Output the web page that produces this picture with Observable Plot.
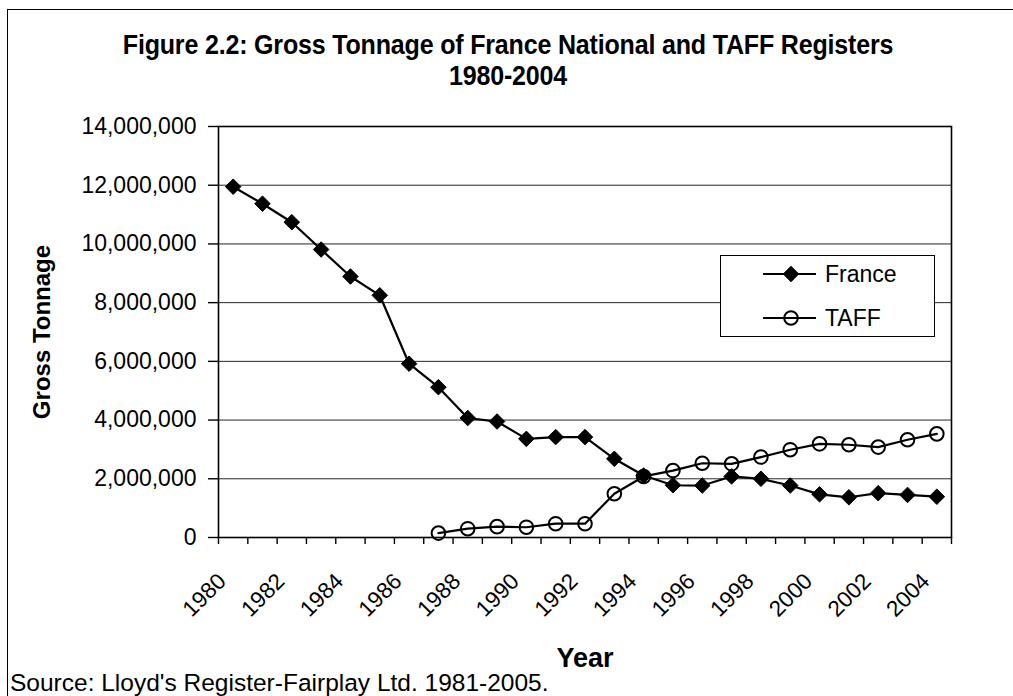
<!DOCTYPE html>
<html>
<head>
<meta charset="utf-8">
<script src="https://cdn.jsdelivr.net/npm/d3@7"></script>
<script src="https://cdn.jsdelivr.net/npm/@observablehq/plot@0.6"></script>
<style>
  html, body { margin: 0; padding: 0; background: #fff; }
  #page { position: relative; width: 1013px; height: 696px; overflow: hidden; font-family: "Liberation Sans", Arial, sans-serif; color: #000; background: #fff; }
  #frame { position: absolute; left: 7px; top: 9px; width: 1100px; height: 800px; border-left: 1.5px solid #000; border-top: 1.5px solid #000; }
  .title { position: absolute; left: 0; width: 1016px; text-align: center; font-family: "Liberation Sans", Arial, sans-serif; font-weight: bold; font-size: 27.5px; line-height: 27.5px; white-space: nowrap; transform: scaleX(0.91); transform-origin: 508px 0; letter-spacing: -0.2px; }
  #t1 { top: 30.5px; }
  #t2 { top: 62px; }
  #chart { position: absolute; left: 0; top: 100px; }
  #legend { position: absolute; left: 720px; top: 255px; width: 215px; height: 82px; border: 1.2px solid #000; background: #fff; box-sizing: border-box; }
  #legend svg { position: absolute; left: 0; top: 0; }
  #source { position: absolute; left: 10px; top: 671px; font-size: 24.5px; line-height: 24px; white-space: nowrap; }
</style>
</head>
<body>
<div id="page">
  <div id="frame"></div>
  <div class="title" id="t1">Figure 2.2: Gross Tonnage of France National and TAFF Registers</div>
  <div class="title" id="t2">1980-2004</div>
  <div id="chart"></div>
  <div id="legend"></div>
  <div id="source">Source: Lloyd's Register-Fairplay Ltd. 1981-2005.</div>
</div>
<script>
// ---- data ----
const years = [1980, 1981, 1982, 1983, 1984, 1985, 1986, 1987, 1988, 1989, 1990, 1991, 1992,
               1993, 1994, 1995, 1996, 1997, 1998, 1999, 2000, 2001, 2002, 2003, 2004];
const france = [11950000, 11370000, 10740000, 9810000, 8890000, 8250000, 5920000, 5120000,
                4070000, 3950000, 3360000, 3420000, 3420000, 2680000, 2110000, 1780000,
                1770000, 2080000, 2000000, 1770000, 1470000, 1370000, 1510000, 1450000, 1390000];
const taff = [null, null, null, null, null, null, null, 150000,
              300000, 370000, 350000, 470000, 470000, 1490000, 2080000, 2280000,
              2530000, 2510000, 2740000, 2990000, 3190000, 3160000, 3080000, 3330000, 3530000];
const yTicks = [0, 2000000, 4000000, 6000000, 8000000, 10000000, 12000000, 14000000];
const xLabelYears = [1980, 1982, 1984, 1986, 1988, 1990, 1992, 1994, 1996, 1998, 2000, 2002, 2004];
const seriesNames = ["France", "TAFF"];

// ---- tables built from the arrays ----
const franceRows = years.map((y, i) => ({year: y, value: france[i]}));
const taffRows = years.map((y, i) => ({year: y, value: taff[i]})).filter(d => d.value != null);
const categoryEdges = years.concat([years[years.length - 1] + 1]);
const mid = d => d.year + 0.5;   // category centre on the year axis

const chart = Plot.plot({
  width: 1013,
  height: 576,
  marginLeft: 218,
  marginRight: 62,
  marginTop: 26,
  marginBottom: 139,
  style: {fontFamily: "'Liberation Sans', Arial, sans-serif", color: "#000", background: "transparent", overflow: "visible"},
  x: {type: "linear", domain: [years[0], years[years.length - 1] + 1]},
  y: {domain: [0, 14000000]},
  marks: [
    Plot.gridY(yTicks, {stroke: "#000", strokeOpacity: 0.85, strokeWidth: 1}),
    Plot.frame({stroke: "#000", strokeWidth: 1.6}),
    Plot.axisY(yTicks, {tickSize: 10, tickPadding: 12, tickFormat: d3.format(","), fontSize: 23, label: null, strokeWidth: 1.4}),
    Plot.axisY({ticks: [], label: "Gross Tonnage", labelAnchor: "center", labelArrow: "none", labelOffset: 186, fontSize: 24, fontWeight: "bold"}),
    Plot.axisX(categoryEdges, {tickSize: 7, tickFormat: () => "", label: null, strokeWidth: 1.4}),
    Plot.text(xLabelYears, {x: d => d + 0.5, text: d => String(d), frameAnchor: "bottom", dy: 40, dx: -11, rotate: -45, textAnchor: "end", lineAnchor: "middle", fontSize: 22.5}),
    Plot.axisX({ticks: [], label: "Year", labelAnchor: "center", labelArrow: "none", labelOffset: 129, fontSize: 27, fontWeight: "bold"}),
    Plot.line(franceRows, {x: mid, y: "value", stroke: "#000", strokeWidth: 2.2}),
    Plot.line(taffRows, {x: mid, y: "value", stroke: "#000", strokeWidth: 2.2}),
    Plot.dot(franceRows, {x: mid, y: "value", symbol: "diamond2", r: 7, fill: "#000", stroke: "#000", strokeWidth: 1}),
    Plot.dot(taffRows, {x: mid, y: "value", symbol: "circle", r: 6.8, fill: "none", stroke: "#000", strokeWidth: 2})
  ]
});
document.getElementById("chart").appendChild(chart);

// ---- legend ----
const ns = "http://www.w3.org/2000/svg";
const lg = document.createElementNS(ns, "svg");
lg.setAttribute("width", 215);
lg.setAttribute("height", 82);
const rowsY = [18, 62];
seriesNames.forEach((name, i) => {
  const y = rowsY[i];
  const line = document.createElementNS(ns, "line");
  line.setAttribute("x1", 42); line.setAttribute("x2", 95);
  line.setAttribute("y1", y); line.setAttribute("y2", y);
  line.setAttribute("stroke", "#000"); line.setAttribute("stroke-width", 2.2);
  lg.appendChild(line);
  const sym = document.createElementNS(ns, "path");
  const shape = i === 0 ? d3.symbolDiamond2 : d3.symbolCircle;
  const size = i === 0 ? Math.PI * 49 : Math.PI * 6.8 * 6.8;
  sym.setAttribute("d", d3.symbol(shape, size)());
  sym.setAttribute("transform", `translate(70,${y})`);
  sym.setAttribute("fill", i === 0 ? "#000" : "none");
  sym.setAttribute("stroke", "#000");
  sym.setAttribute("stroke-width", i === 0 ? 1 : 2);
  lg.appendChild(sym);
  const t = document.createElementNS(ns, "text");
  t.setAttribute("x", 104);
  t.setAttribute("y", y);
  t.setAttribute("dy", "0.35em");
  t.setAttribute("font-size", 23);
  t.setAttribute("font-family", "'Liberation Sans', Arial, sans-serif");
  t.textContent = name;
  lg.appendChild(t);
});
document.getElementById("legend").appendChild(lg);
</script>
</body>
</html>
